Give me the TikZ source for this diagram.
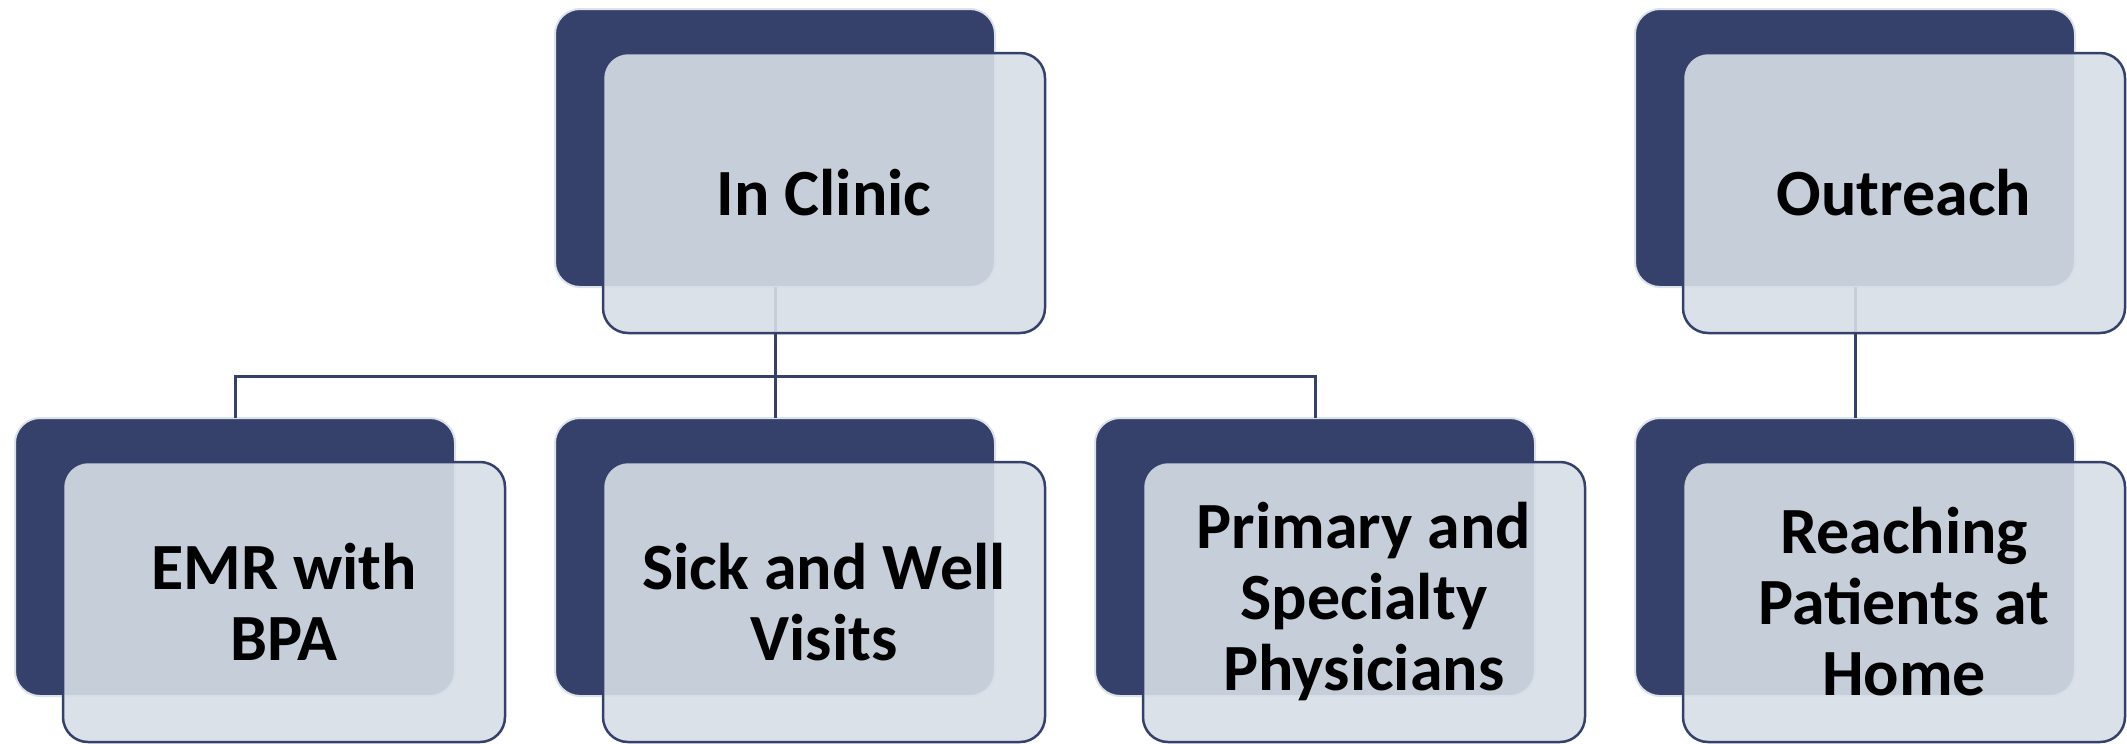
\documentclass[tikz,border=0pt]{standalone}
\usepackage{fontspec}
\setmainfont{Carlito}
\definecolor{navy}{HTML}{35416A}
\definecolor{paleedge}{HTML}{DCE2EA}
\definecolor{cardfill}{HTML}{D6DEE7}
\tikzset{
  back/.style={draw=paleedge, line width=1pt, fill=navy, rounded corners=12.5pt,
    minimum width=220pt, minimum height=139pt, inner sep=0pt, outer sep=0pt, anchor=north west},
  card/.style={draw=navy, line width=1.25pt, fill=cardfill, fill opacity=0.9, text opacity=1,
    rounded corners=12.5pt, minimum width=221pt, minimum height=140pt, inner sep=0pt, outer sep=0pt,
    anchor=north west, align=center, font=\fontsize{33}{35.5}\selectfont\bfseries},
  link/.style={draw=navy, line width=1.5pt}
}
\begin{document}
\begin{tikzpicture}[x=0.5pt,y=-0.5pt]
\useasboundingbox (0,0) rectangle (2127,744);

% dark back plates
\node[back] (b1) at (555,9) {};
\node[back] (b2) at (1635,9) {};
\node[back] (d1) at (15,418) {};
\node[back] (d2) at (555,418) {};
\node[back] (d3) at (1095,418) {};
\node[back] (d4) at (1635,418) {};

% tree connectors
\draw[link] (b1.south) -- ++(0,89) coordinate (bus);
\draw[link] (d1.north) |- (bus) -| (d3.north);
\draw[link] (bus) -- (d2.north);
\draw[link] (b2.south) -- (d4.north);

% translucent front cards
\node[card] (t1) at (603,53) {In Clinic};
\node[card] (t2) at (1683,53) {Outreach};
\node[card] (c1) at (63,462) {EMR with\\BPA};
\node[card] (c2) at (603,462) {Sick and Well\\Visits};
\node[card] (c3) at (1143,462) {Primary and\\Specialty\\Physicians};
\node[card] (c4) at (1683,462) {Reaching\\Patients at\\Home};
\end{tikzpicture}
\end{document}
